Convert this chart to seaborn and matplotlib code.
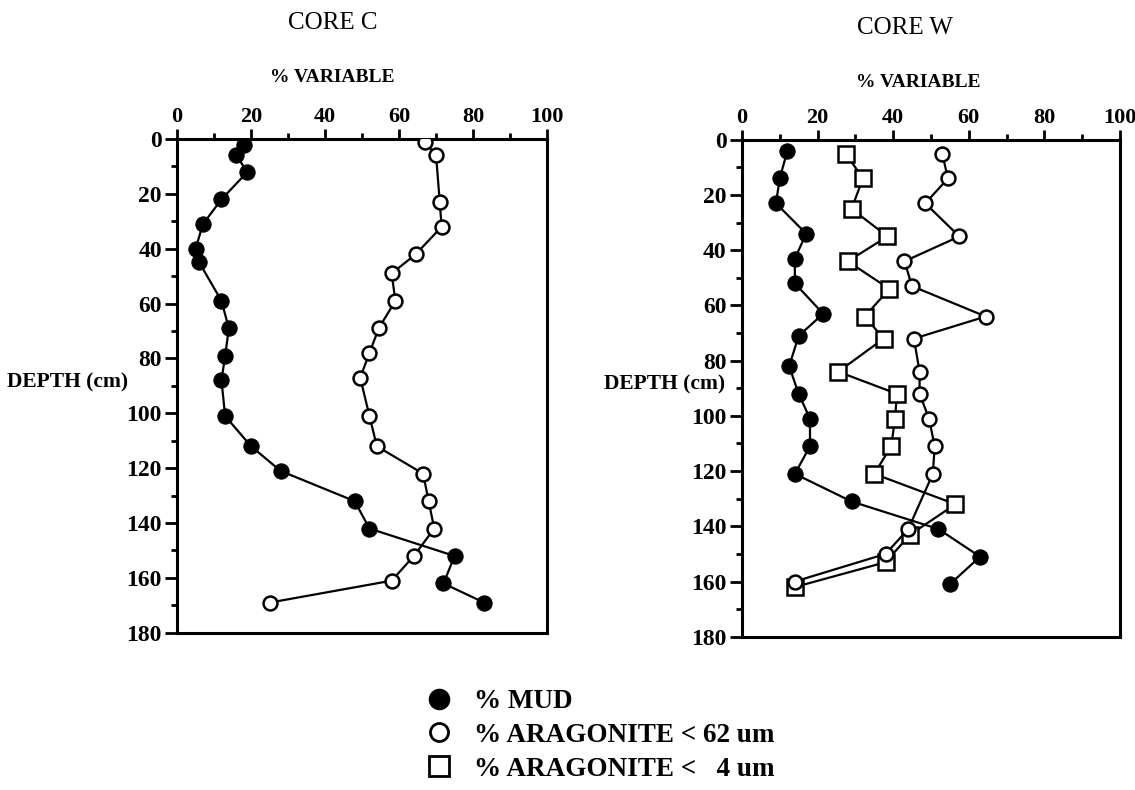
import matplotlib
matplotlib.use("Agg")
import matplotlib.pyplot as plt
from matplotlib.ticker import MultipleLocator
from matplotlib.lines import Line2D
import seaborn as sns

# ---------------- data ----------------
# CORE C
c_mud_depth = [2, 6, 12, 22, 31, 40, 45, 59, 69, 79, 88, 101, 112, 121, 132, 142, 152, 162, 169]
c_mud_pct = [18, 16, 19, 12, 7, 5, 6, 12, 14, 13, 12, 13, 20, 28, 48, 52, 75, 72, 83]
c_ar62_depth = [1, 6, 23, 32, 42, 49, 59, 69, 78, 87, 101, 112, 122, 132, 142, 152, 161, 169]
c_ar62_pct = [67, 70, 71, 71.5, 64.5, 58, 59, 54.5, 52, 49.5, 52, 54, 66.5, 68, 69.5, 64, 58, 25]

# CORE W
w_mud_depth = [4, 14, 23, 34, 43, 52, 63, 71, 82, 92, 101, 111, 121, 131, 141, 151, 161]
w_mud_pct = [12, 10, 9, 17, 14, 14, 21.5, 15, 12.5, 15, 18, 18, 14, 29, 52, 63, 55]
w_ar62_depth = [5, 14, 23, 35, 44, 53, 64, 72, 84, 92, 101, 111, 121, 141, 150, 160]
w_ar62_pct = [53, 54.5, 48.5, 57.5, 43, 45, 64.5, 45.5, 47, 47, 49.5, 51, 50.5, 44, 38, 14]
w_ar4_depth = [5, 14, 25, 35, 44, 54, 64, 72, 84, 92, 101, 111, 121, 132, 143, 153, 162]
w_ar4_pct = [27.5, 32, 29, 38.5, 28, 39, 32.5, 37.5, 25.5, 41, 40.5, 39.5, 35, 56.5, 44.5, 38, 14]

x_ticks = [0, 20, 40, 60, 80, 100]
y_ticks = [0, 20, 40, 60, 80, 100, 120, 140, 160, 180]
titles = ["CORE C", "CORE W"]
legend_labels = ["% MUD", "% ARAGONITE < 62 um", "% ARAGONITE <   4 um"]

# ---------------- style ----------------
sns.set_style("ticks")
plt.rcParams["font.family"] = ["Liberation Serif", "DejaVu Serif"]
plt.rcParams["font.weight"] = "bold"
plt.rcParams["text.color"] = "black"
plt.rcParams["xtick.color"] = "black"
plt.rcParams["ytick.color"] = "black"
plt.rcParams["axes.edgecolor"] = "black"

fig = plt.figure(figsize=(11.35, 7.9), dpi=100)
axC = fig.add_axes([0.156, 0.199, 0.326, 0.625])
axW = fig.add_axes([0.6537, 0.194, 0.333, 0.629])

mud_kw = dict(marker="o", color="black", markersize=11, markerfacecolor="black",
              markeredgecolor="black", linewidth=1.6)
ar62_kw = dict(marker="o", color="black", markersize=10, markerfacecolor="white",
               markeredgecolor="black", markeredgewidth=1.8, linewidth=1.6)
ar4_kw = dict(marker="s", color="black", markersize=11, markerfacecolor="white",
              markeredgecolor="black", markeredgewidth=1.8, linewidth=1.6)

sns.lineplot(x=c_mud_pct, y=c_mud_depth, sort=False, estimator=None, ax=axC, zorder=3, **mud_kw)
sns.lineplot(x=c_ar62_pct, y=c_ar62_depth, sort=False, estimator=None, ax=axC, zorder=4, **ar62_kw)

sns.lineplot(x=w_mud_pct, y=w_mud_depth, sort=False, estimator=None, ax=axW, zorder=3, **mud_kw)
sns.lineplot(x=w_ar4_pct, y=w_ar4_depth, sort=False, estimator=None, ax=axW, zorder=4, **ar4_kw)
sns.lineplot(x=w_ar62_pct, y=w_ar62_depth, sort=False, estimator=None, ax=axW, zorder=5, **ar62_kw)

for ax in (axC, axW):
    ax.set_xlim(0, 100)
    ax.set_ylim(180, 0)
    ax.xaxis.tick_top()
    ax.set_xticks(x_ticks)
    ax.set_yticks(y_ticks)
    ax.xaxis.set_minor_locator(MultipleLocator(10))
    ax.yaxis.set_minor_locator(MultipleLocator(10))
    ax.tick_params(axis="x", which="major", length=7, width=2, direction="out",
                   labelsize=16, pad=1.5, color="black", labelcolor="black")
    ax.tick_params(axis="y", which="major", length=8.5, width=2, direction="out",
                   labelsize=17, pad=2.5, color="black", labelcolor="black")
    ax.tick_params(axis="both", which="minor", length=4, width=2, direction="out", color="black")
    for lab in ax.get_xticklabels() + ax.get_yticklabels():
        lab.set_fontweight("bold")
    for s in ax.spines.values():
        s.set_visible(True)
        s.set_linewidth(2.2)
        s.set_color("black")
    ax.set_xlabel("")
    ax.set_ylabel("")
    ax.grid(False)

# titles and labels
fig.text(0.293, 0.971, titles[0], ha="center", va="center", fontsize=18, fontweight="normal")
fig.text(0.293, 0.9025, "% VARIABLE", ha="center", va="center", fontsize=14, fontweight="bold")
fig.text(0.797, 0.964, titles[1], ha="center", va="center", fontsize=18, fontweight="normal")
fig.text(0.809, 0.895, "% VARIABLE", ha="center", va="center", fontsize=14, fontweight="bold")
fig.text(0.006, 0.516, "DEPTH (cm)", ha="left", va="center", fontsize=15.5, fontweight="bold")
fig.text(0.532, 0.513, "DEPTH (cm)", ha="left", va="center", fontsize=15.5, fontweight="bold")

handles = [
    Line2D([], [], linestyle="none", marker="o", markersize=14.5, markerfacecolor="black",
           markeredgecolor="black"),
    Line2D([], [], linestyle="none", marker="o", markersize=13, markerfacecolor="white",
           markeredgecolor="black", markeredgewidth=2),
    Line2D([], [], linestyle="none", marker="s", markersize=14, markerfacecolor="white",
           markeredgecolor="black", markeredgewidth=2),
]
leg = fig.legend(handles, legend_labels, loc="upper left", bbox_to_anchor=(0.369, 0.1275),
                 frameon=False, borderpad=0, borderaxespad=0, handlelength=1.5,
                 handletextpad=0.52, labelspacing=0.32, prop={"size": 19.5, "weight": "bold"})

fig.savefig("out.png", dpi=100)
